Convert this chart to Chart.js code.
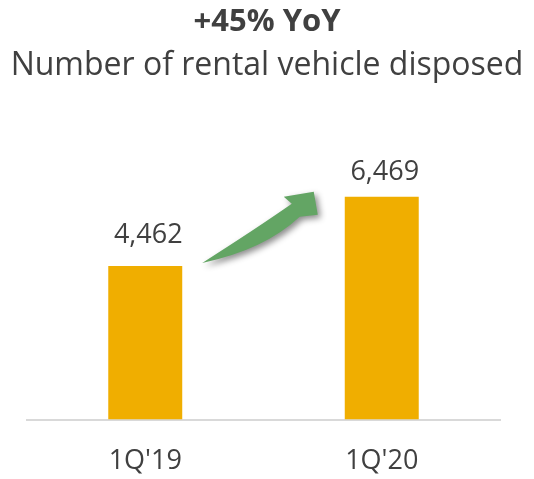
<!DOCTYPE html>
<html>
<head>
<meta charset="utf-8">
<script src="https://cdn.jsdelivr.net/npm/chart.js@4.4.1/dist/chart.umd.min.js"></script>
<style>
html,body{margin:0;padding:0;background:#fff;}
#wrap{width:534px;height:479px;position:relative;}
</style>
</head>
<body>
<div id="wrap"><canvas id="c"></canvas></div>
<script>
const categories = ["1Q'19", "1Q'20"];
const vehiclesDisposed = [4462, 6469];
const titleText = "+45% YoY";
const subtitleText = "Number of rental vehicle disposed";

const FONT = "'Open Sans', sans-serif";
const TEXT = '#404040';

const valueLabels = {
  id: 'valueLabels',
  afterDatasetsDraw(chart) {
    const ctx = chart.ctx;
    const meta = chart.getDatasetMeta(0);
    const gaps = [23, 17];
    ctx.save();
    ctx.font = "27px " + FONT;
    ctx.fillStyle = TEXT;
    ctx.textAlign = 'center';
    ctx.textBaseline = 'alphabetic';
    meta.data.forEach((bar, i) => {
      const v = chart.data.datasets[0].data[i];
      ctx.fillText(v.toLocaleString('en-US'), bar.x + 3, bar.y - gaps[i]);
    });
    ctx.restore();
  }
};

const growthArrow = {
  id: 'growthArrow',
  afterDatasetsDraw(chart) {
    const ctx = chart.ctx;
    const meta = chart.getDatasetMeta(0);
    const b1 = meta.data[0], b2 = meta.data[1];
    const T = {x: b1.x + b1.width / 2 + 20, y: b1.y - 3};
    const P = {x: b2.x - b2.width / 2 - 31, y: b2.y - 5};
    ctx.save();
    ctx.shadowColor = 'rgba(0,0,0,0.45)';
    ctx.shadowBlur = 6;
    ctx.shadowOffsetX = 3;
    ctx.shadowOffsetY = 3;
    ctx.fillStyle = '#63A564';
    ctx.beginPath();
    ctx.moveTo(T.x, T.y);
    ctx.quadraticCurveTo(T.x + 62, T.y - 13, P.x - 14, P.y + 25);
    ctx.lineTo(P.x + 4, P.y + 23);
    ctx.lineTo(P.x, P.y);
    ctx.lineTo(P.x - 30, P.y + 5);
    ctx.lineTo(P.x - 22, P.y + 12);
    ctx.quadraticCurveTo(T.x + 52, T.y - 33, T.x, T.y);
    ctx.closePath();
    ctx.fill();
    ctx.restore();
  }
};

const spacerAxis = (pos, w) => ({
  display: true,
  position: pos,
  min: 0,
  max: 9000,
  ticks: { display: false },
  grid: { display: false, drawTicks: false },
  border: { display: false },
  afterFit(scale) { scale.width = w; }
});

new Chart(document.getElementById('c'), {
  type: 'bar',
  data: {
    labels: categories,
    datasets: [{
      data: vehiclesDisposed,
      backgroundColor: '#F0AE00',
      borderWidth: 0,
      categoryPercentage: 0.8,
      barPercentage: 0.391,
      yAxisID: 'y'
    }]
  },
  options: {
    responsive: true,
    maintainAspectRatio: false,
    animation: false,
    layout: { padding: { left: 0, right: 0, top: 0, bottom: -25 } },
    plugins: {
      legend: { display: false },
      tooltip: { enabled: false },
      title: {
        display: true,
        text: titleText,
        color: TEXT,
        font: { family: FONT, size: 31, weight: 'bold' },
        padding: { top: 4, bottom: 5 }
      },
      subtitle: {
        display: true,
        text: subtitleText,
        color: TEXT,
        font: { family: FONT, size: 32 },
        padding: { top: 0, bottom: 25 }
      }
    },
    scales: {
      x: {
        grid: { display: false, drawTicks: false },
        border: { display: true, color: '#D9D9D9', width: 2 },
        ticks: { color: TEXT, font: { family: FONT, size: 27 }, padding: 26 }
      },
      y: spacerAxis('left', 27),
      y2: spacerAxis('right', 34)
    }
  },
  plugins: [valueLabels, growthArrow]
});
</script>
</body>
</html>
